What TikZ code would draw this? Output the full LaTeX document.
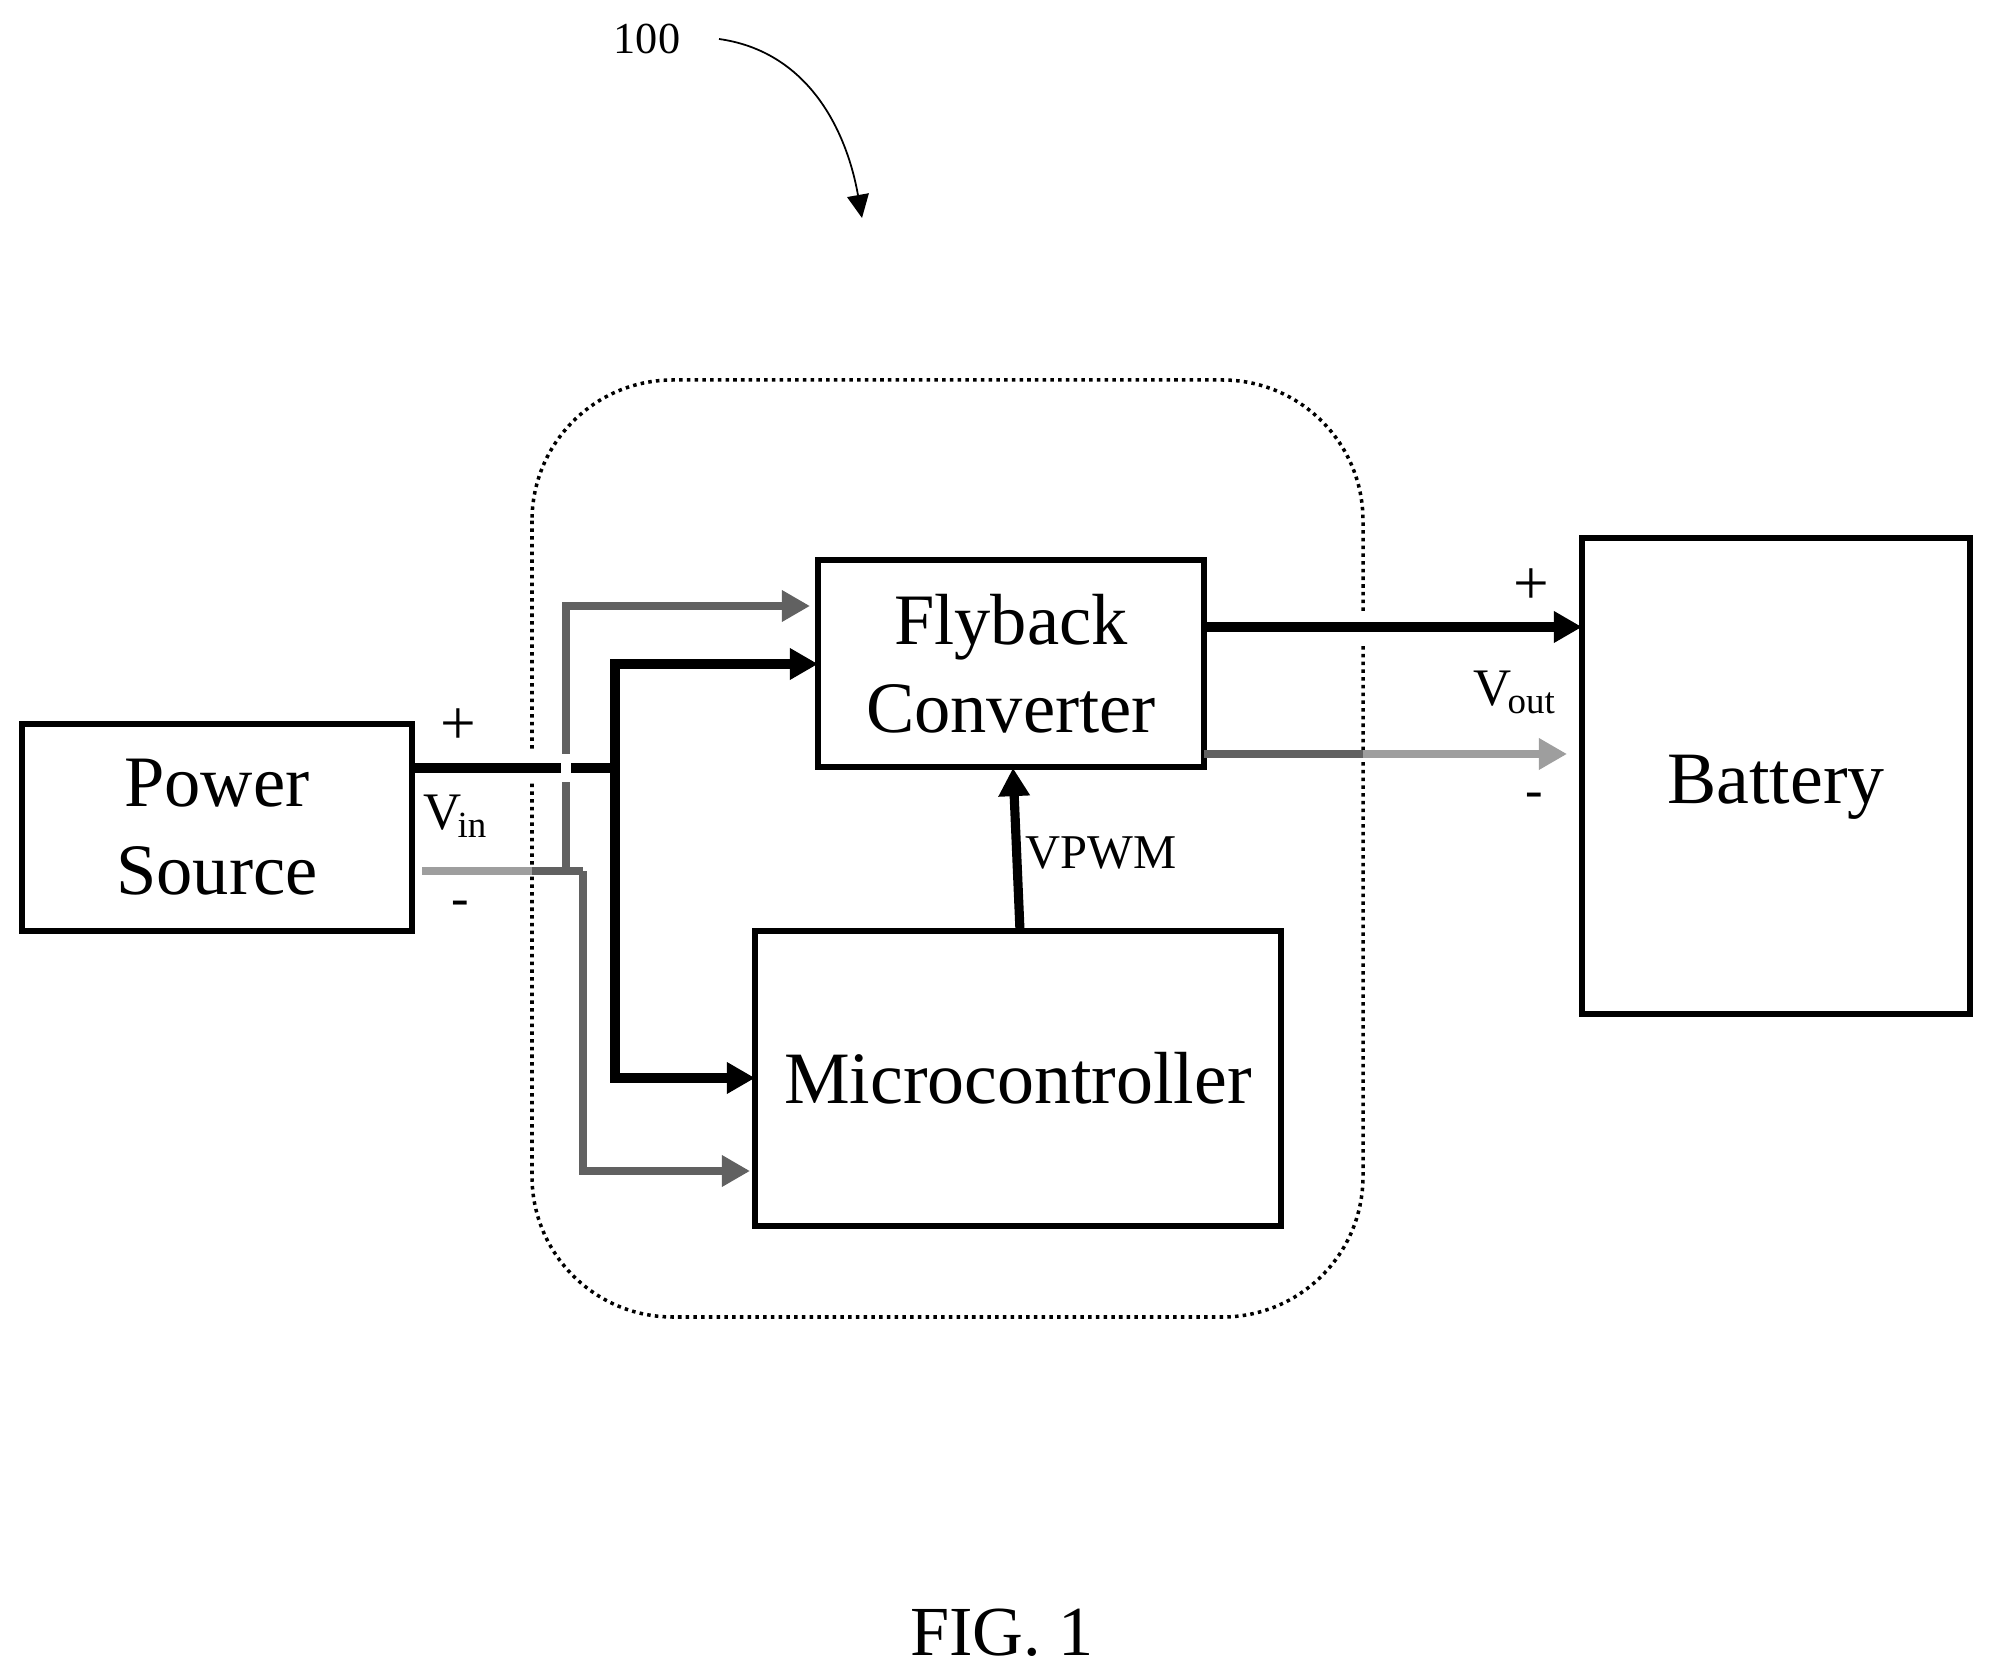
\documentclass[tikz,border=0pt]{standalone}
\usepackage{fontspec}
\setmainfont{Liberation Serif}
\usetikzlibrary{arrows.meta}
\begin{document}
\begin{tikzpicture}[
    x=0.01cm, y=-0.01cm,
    every node/.style={align=center, inner sep=0pt, outer sep=0pt},
    block/.style={draw, line width=1.6pt, font=\fontsize{21}{24.8}\selectfont},
    two line block/.style={block, font=\fontsize{20.6}{25}\selectfont},
    small label/.style={font=\fontsize{15}{18}\selectfont},
    plus label/.style={font=\fontsize{18}{20}\selectfont},
    enclosure/.style={draw, line width=1pt, dash pattern=on 1pt off 1.2pt, rounded corners=40pt},
    black wire/.style={draw, line width=2.6pt},
    gray wire/.style={draw=black!62, line width=2.3pt},
    pale wire/.style={draw=black!38, line width=2.3pt},
    wire tip/.style={-{Triangle[length=8pt,width=8.5pt]}},
    gap line/.style={draw=white, line width=8pt},
    ]
\useasboundingbox (0,0) rectangle (1991,1680);
\draw[enclosure] (532,380) rectangle (1363,1317);
\node[two line block, minimum width=3.9cm, minimum height=2.07cm] (ps) at (217,827.5) {Power\\Source};
\node[two line block, minimum width=3.86cm, minimum height=2.07cm] (fly) at (1011,663.5) {Flyback\\Converter};
\node[block, minimum width=5.26cm, minimum height=2.95cm] (mc) at (1018,1078.5) {Microcontroller};
\node[block, text height=20pt, minimum width=3.88cm, minimum height=4.76cm] (bat) at (1776,776) {Battery};
\node[font=\fontsize{12.6}{15}\selectfont] (ref) at (647,39) {100};
\coordinate (refstart) at (719,39);
\coordinate (refend) at (862,218);
\draw[line width=0.5pt, -{Triangle[length=6.6pt,width=6.2pt]}] (refstart) to[out=-8, in=100] (refend);
% plus side of the input
\coordinate (vp) at (412,768);
\coordinate (vpj) at (615,768);
\coordinate (flyp) at (818,664);
\coordinate (mcp) at (755,1078);
\draw[gap line] (532,752) -- (532,782);
\draw[black wire] (vp) -- (vpj);
\draw[black wire, wire tip] (vpj) |- (flyp);
\draw[black wire, wire tip] (vpj) |- (mcp);
% minus side of the input
\coordinate (vm) at (422,871);
\coordinate (vmm) at (532,871);
\coordinate (vmj) at (566,871);
\coordinate (vmc) at (583,871);
\coordinate (vmup) at (566,754);
\coordinate (flym) at (810,606);
\coordinate (mcm) at (750,1171);
\draw[pale wire] (vm) -- (vmm);
\draw[gray wire] (vmm) -- (vmc);
\draw[gap line, line width=3pt] (566,755) -- (566,781);
\draw[gray wire] (vmj) -- (566,782);
\draw[gray wire, wire tip] (vmup) |- (flym);
\draw[gray wire, wire tip] (vmc) |- (mcm);
% output
\coordinate (op) at (1204,627);
\coordinate (batp) at (1582,627);
\coordinate (om) at (1204,754);
\coordinate (omm) at (1363,754);
\coordinate (batm) at (1567,754);
\draw[gap line] (1363,611) -- (1363,642);
\draw[black wire, wire tip] (op) -- (batp);
\draw[gray wire] (om) -- (omm);
\draw[pale wire, wire tip] (omm) -- (batm);
% pwm signal
\draw[black wire, wire tip] (1020,931) -- (1013,768);
% labels
\node[plus label] (vpplus) at (458,727) {+};
\node[small label, anchor=base west] (vin) at (423,830) {V\kern-1pt\textsubscript{in}};
\node[small label] (vpminus) at (460,908) {-};
\node[plus label] (voplus) at (1531,587) {+};
\node[small label, anchor=base west] (vout) at (1473,706) {V\kern-1pt\textsubscript{out}};
\node[small label] (vominus) at (1534,800) {-};
\node[font=\fontsize{13.8}{16}\selectfont] (vpwm) at (1101,853) {VPWM};
\node[font=\fontsize{20}{22}\selectfont] (fig) at (1002,1633) {FIG. 1};
\end{tikzpicture}
\end{document}
